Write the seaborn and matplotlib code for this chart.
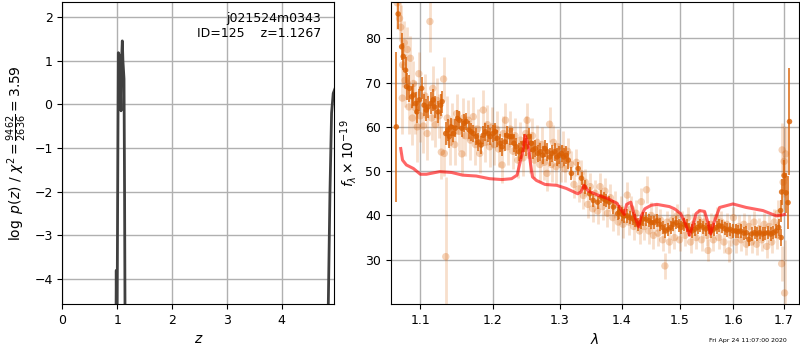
import numpy as np
import pandas as pd
import seaborn as sns
import matplotlib
matplotlib.use('Agg')
import matplotlib.pyplot as plt
from matplotlib.ticker import NullLocator, FixedLocator, FixedFormatter

# redshift probability
z_peak = [0.975, 0.984, 0.990, 1.000, 1.021, 1.045, 1.070, 1.080, 1.094, 1.105, 1.125, 1.135, 1.150]
logp_peak = [-6.0, -3.8, -5.0, -4.6, 1.18, 1.10, -0.15, 1.00, 1.45, 1.00, 0.58, -2.0, -7.0]
z_tail = [4.835, 4.850, 4.880, 4.910, 4.940, 4.970]
logp_tail = [-6.0, -4.6, -2.05, -0.20, 0.25, 0.35]

# binned spectrum (dark points)
lam_bin = [1.0688, 1.0712, 1.0757, 1.0777, 1.0807, 1.0820, 1.0857, 1.0886, 1.0910, 1.0942,
           1.0954, 1.0987, 1.1017, 1.1050, 1.1080, 1.1103, 1.1143, 1.1170, 1.1190, 1.1237,
           1.1270, 1.1290, 1.1340, 1.1368, 1.1390, 1.1410, 1.1445, 1.1470, 1.1500, 1.1526,
           1.1560, 1.1590, 1.1620, 1.1660, 1.1690, 1.1720, 1.1760, 1.1790, 1.1830, 1.1860,
           1.1890, 1.1930, 1.1960, 1.2000, 1.2030, 1.2060, 1.2100, 1.2130, 1.2170, 1.2200,
           1.2240, 1.2270, 1.2305, 1.2340, 1.2375, 1.2410, 1.2450, 1.2490, 1.2525, 1.2560,
           1.2590, 1.2625, 1.2660, 1.2700, 1.2735, 1.2770, 1.2805, 1.2840, 1.2875, 1.2920,
           1.2955, 1.2990, 1.3025, 1.3060, 1.3095, 1.3130, 1.3180, 1.3287, 1.3340, 1.3390,
           1.3470, 1.3527, 1.3600, 1.3660, 1.3700, 1.3740, 1.3790, 1.3860, 1.3930, 1.3960,
           1.4000, 1.4040, 1.4090, 1.4130, 1.4180, 1.4220, 1.4270, 1.4320, 1.4360, 1.4410,
           1.4460, 1.4505, 1.4550, 1.4600, 1.4650, 1.4700, 1.4750, 1.4800, 1.4840, 1.4890,
           1.4940, 1.4990, 1.5030, 1.5080, 1.5130, 1.5180, 1.5230, 1.5280, 1.5330, 1.5380,
           1.5430, 1.5480, 1.5530, 1.5580, 1.5630, 1.5680, 1.5730, 1.5780, 1.5830, 1.5880,
           1.5930, 1.5990, 1.6040, 1.6090, 1.6140, 1.6200, 1.6250, 1.6300, 1.6350, 1.6410,
           1.6460, 1.6510, 1.6570, 1.6620, 1.6680, 1.6730, 1.6780, 1.6840, 1.6890, 1.6940,
           1.6930, 1.6950, 1.7000, 1.7040, 1.7080, 1.7110]
flux_bin = [60.0, 85.5, 78.1, 75.9, 72.8, 69.1, 68.7, 66.8, 67.2, 65.3,
            63.4, 66.1, 68.7, 64.9, 63.8, 64.5, 65.3, 66.1, 64.5, 63.4,
            64.9, 65.7, 58.5, 59.3, 57.8, 60.0, 58.5, 59.7, 61.9, 61.5,
            59.7, 60.8, 61.2, 59.3, 58.9, 58.5, 57.8, 56.6, 55.9, 58.1,
            58.9, 58.5, 57.8, 58.5, 58.9, 57.4, 56.3, 55.5, 56.6, 58.1,
            57.8, 57.8, 56.3, 55.5, 54.4, 54.8, 56.3, 55.5, 57.8, 56.3,
            54.8, 55.1, 54.0, 54.4, 53.6, 55.1, 54.4, 53.2, 54.0, 54.4,
            53.2, 53.6, 54.0, 53.2, 53.6, 52.5, 49.5, 50.6, 48.4, 46.4,
            44.9, 43.4, 43.0, 44.2, 43.7, 43.3, 43.0, 41.9, 40.4, 40.8,
            40.3, 39.9, 39.9, 39.5, 39.3, 38.8, 38.0, 38.4, 39.2, 39.2,
            38.8, 38.4, 38.4, 38.8, 38.0, 37.3, 36.5, 36.9, 37.3, 38.0,
            38.4, 37.7, 37.3, 38.0, 37.7, 36.9, 36.5, 36.9, 37.3, 37.7,
            37.3, 36.9, 37.3, 36.5, 36.9, 37.3, 37.7, 37.5, 37.0, 36.7,
            36.9, 36.5, 36.5, 36.3, 36.5, 36.0, 36.1, 34.6, 35.8, 36.1,
            35.8, 36.1, 35.8, 36.0, 36.1, 35.8, 36.1, 36.5, 37.3, 35.0,
            41.1, 45.3, 49.0, 45.1, 42.9, 61.2]
err_bin = [17, 3.5, 3, 3, 3, 3, 3, 2.5, 2.5, 2.5,
           2.5, 2.5, 2.5, 2.5, 2.5, 2.5, 2.5, 2.5, 2.5, 2.5,
           2.5, 2.5, 2.5, 2.5, 2.5, 2, 2, 2, 2, 2,
           2, 2, 2, 2, 2, 2, 2, 2, 2, 2,
           2, 2, 2, 2, 2, 2, 2, 2, 2, 2,
           2, 2, 2, 2, 2, 2, 2, 2, 2, 2,
           2, 2, 2, 2, 2, 2, 2, 2, 2, 2,
           2, 2, 2, 2, 2, 2, 1.5, 1.5, 1.5, 1.5,
           1.5, 1.5, 1.5, 1.5, 1.5, 1.5, 1.5, 1.5, 1.5, 1.5,
           1.5, 1.5, 1.5, 1.5, 1.5, 1.5, 1.5, 1.5, 1.5, 1.5,
           1.5, 1.5, 1.5, 1.5, 1.5, 1.5, 1.5, 1.5, 1.5, 1.5,
           1.5, 1.5, 1.5, 1.5, 1.5, 1.5, 1.5, 1.5, 1.5, 1.5,
           1.5, 1.5, 1.5, 1.5, 1.5, 1.5, 1.5, 1.5, 1.5, 1.5,
           1.5, 1.5, 1.5, 1.5, 1.5, 1.5, 1.5, 1.5, 1.5, 1.5,
           1.5, 1.5, 1.5, 1.5, 1.5, 1.5, 1.5, 1.5, 2, 2,
           2.5, 3, 3.5, 4.5, 6, 12]

# unbinned spectrum (light points)
lam_raw = [1.0700, 1.0730, 1.0745, 1.0765, 1.0770, 1.0790, 1.0800, 1.0830, 1.0850, 1.0870,
           1.0895, 1.0910, 1.0935, 1.0960, 1.0980, 1.1000, 1.1040, 1.1060, 1.1090, 1.1127,
           1.1150, 1.1165, 1.1200, 1.1220, 1.1250, 1.1280, 1.1310, 1.1320, 1.1340, 1.1360,
           1.1400, 1.1430, 1.1460, 1.1490, 1.1520, 1.1560, 1.1580, 1.1610, 1.1650, 1.1680,
           1.1720, 1.1750, 1.1780, 1.1810, 1.1860, 1.1880, 1.1920, 1.1950, 1.1990, 1.2020,
           1.2050, 1.2080, 1.2130, 1.2150, 1.2180, 1.2210, 1.2250, 1.2290, 1.2320, 1.2360,
           1.2400, 1.2440, 1.2480, 1.2500, 1.2540, 1.2580, 1.2610, 1.2650, 1.2690, 1.2720,
           1.2760, 1.2800, 1.2840, 1.2870, 1.2900, 1.2940, 1.2970, 1.3010, 1.3050, 1.3080,
           1.3120, 1.3170, 1.3220, 1.3260, 1.3300, 1.3330, 1.3370, 1.3400, 1.3440, 1.3480,
           1.3520, 1.3560, 1.3600, 1.3640, 1.3680, 1.3720, 1.3760, 1.3810, 1.3850, 1.3890,
           1.3940, 1.3980, 1.4020, 1.4090, 1.4120, 1.4160, 1.4200, 1.4240, 1.4300, 1.4330,
           1.4380, 1.4420, 1.4460, 1.4500, 1.4540, 1.4580, 1.4620, 1.4660, 1.4700, 1.4740,
           1.4780, 1.4820, 1.4870, 1.4910, 1.4960, 1.5000, 1.5050, 1.5100, 1.5150, 1.5200,
           1.5250, 1.5300, 1.5350, 1.5400, 1.5450, 1.5500, 1.5520, 1.5570, 1.5620, 1.5680,
           1.5720, 1.5770, 1.5820, 1.5870, 1.5910, 1.5950, 1.6000, 1.6050, 1.6100, 1.6150,
           1.6200, 1.6250, 1.6300, 1.6350, 1.6400, 1.6450, 1.6500, 1.6550, 1.6600, 1.6650,
           1.6700, 1.6750, 1.6800, 1.6850, 1.6880, 1.6950, 1.6960, 1.6980, 1.7000, 1.7010,
           1.7030]
flux_raw = [88.0, 84.5, 82.5, 66.5, 74.0, 79.0, 70.5, 77.5, 64.5, 75.5,
            62.0, 69.8, 64.3, 60.0, 72.0, 62.5, 60.2, 67.0, 58.5, 83.8,
            62.0, 68.7, 60.5, 66.0, 62.5, 54.3, 70.8, 54.0, 30.7, 62.0,
            56.5, 61.0, 56.0, 63.0, 59.0, 53.9, 62.0, 58.0, 61.5, 57.0,
            62.3, 56.0, 59.5, 54.0, 63.8, 56.5, 60.5, 55.5, 60.0, 56.0,
            59.5, 55.0, 51.4, 58.5, 61.5, 55.5, 59.5, 54.5, 58.0, 52.5,
            57.0, 53.0, 58.5, 61.5, 53.5, 58.0, 52.5, 56.5, 51.5, 56.0,
            52.0, 49.5, 60.6, 51.5, 56.5, 51.0, 55.5, 51.5, 55.0, 50.5,
            54.5, 51.5, 47.0, 52.0, 46.0, 49.5, 44.5, 47.5, 42.5, 46.5,
            41.5, 45.0, 41.0, 46.5, 42.0, 45.5, 40.5, 44.0, 39.5, 42.5,
            38.5, 41.5, 38.0, 44.6, 38.5, 41.5, 37.5, 40.5, 36.5, 43.1,
            37.5, 45.8, 36.5, 40.0, 35.5, 39.5, 36.0, 39.0, 34.5, 28.6,
            38.5, 34.0, 39.0, 35.0, 40.0, 34.5, 38.5, 35.5, 39.5, 34.0,
            38.0, 35.0, 39.0, 34.5, 38.5, 35.5, 32.1, 38.0, 34.5, 39.5,
            35.0, 38.5, 34.0, 38.0, 32.0, 35.5, 39.5, 34.0, 37.5, 34.5,
            38.0, 33.5, 37.5, 34.0, 38.5, 33.5, 37.0, 34.5, 38.0, 33.0,
            37.5, 34.0, 38.5, 35.5, 40.5, 29.1, 54.8, 47.5, 52.2, 22.5,
            53.9]
err_raw = [6, 5, 5, 8, 5, 5, 6, 5, 6, 5,
           6, 5, 6, 8, 5, 6, 6, 5, 6, 7,
           5, 5, 5, 5, 5, 6, 5, 5, 18, 5,
           5, 4.5, 4.5, 4.5, 4.5, 4.5, 4.5, 4.5, 4.5, 4.5,
           4.5, 4.5, 4.5, 4.5, 4.5, 4.5, 4.5, 4.5, 4.5, 4.5,
           4, 4, 4, 4, 4, 4, 4, 4, 4, 4,
           4, 4, 4, 4, 4, 4, 4, 4, 4, 4,
           4, 4, 4, 4, 4, 4, 4, 4, 4, 3,
           3, 3, 3, 3, 3, 3, 3, 3, 3, 3,
           3, 3, 3, 3, 3, 3, 3, 3, 3, 3,
           3, 3, 3, 3, 3, 3, 3, 3, 3, 3,
           3, 3, 3, 3, 3, 3, 3, 2.5, 2.5, 3,
           2.5, 2.5, 2.5, 2.5, 2.5, 2.5, 2.5, 2.5, 2.5, 2.5,
           2.5, 2.5, 2.5, 2.5, 2.5, 2.5, 2.5, 2.5, 2.5, 2.5,
           2.5, 2.5, 2.5, 2.5, 2.5, 2.5, 2.5, 2.5, 2.5, 2.5,
           2.5, 2.5, 2.5, 2.5, 2.5, 2.5, 2.5, 2.5, 2.5, 2.5,
           2.5, 2.5, 3, 3, 3, 4, 6, 6, 8, 12,
           6]

# best-fit template (red line)
lam_model = [1.0745, 1.0768, 1.0818, 1.0909, 1.1000, 1.1080, 1.1260, 1.1420, 1.1570, 1.1760,
             1.1950, 1.2130, 1.2270, 1.2350, 1.2390, 1.2440, 1.2470, 1.2510, 1.2550, 1.2580,
             1.2640, 1.2770, 1.2950, 1.3100, 1.3280, 1.3330, 1.3380, 1.3450, 1.3620, 1.3770,
             1.3920, 1.4000, 1.4040, 1.4080, 1.4150, 1.4215, 1.4285, 1.4330, 1.4390, 1.4500,
             1.4600, 1.4820, 1.4910, 1.5020, 1.5100, 1.5180, 1.5255, 1.5300, 1.5365, 1.5457,
             1.5519, 1.5568, 1.5631, 1.5737, 1.5990, 1.6247, 1.6575, 1.6841, 1.7009]
flux_model = [55.1, 52.5, 51.4, 50.6, 49.3, 49.3, 49.9, 49.7, 49.1, 48.9,
              48.3, 48.1, 48.3, 49.1, 51.7, 54.8, 58.1, 56.3, 51.7, 48.7,
              47.9, 47.0, 46.8, 46.1, 44.9, 45.3, 46.8, 45.5, 44.5, 43.8,
              42.7, 41.0, 40.2, 42.5, 43.0, 39.9, 37.4, 39.9, 41.5, 42.3,
              42.5, 42.0, 41.5, 40.4, 38.4, 35.5, 38.4, 40.4, 41.1, 40.9,
              38.4, 35.8, 38.4, 41.8, 42.6, 41.8, 41.1, 39.9, 40.2]

lam_ticks = [1.1, 1.2, 1.3, 1.4, 1.5, 1.6, 1.7]

plt.rcParams['font.size'] = 9
plt.rcParams['axes.axisbelow'] = True
orange = '#d95f02'

fig = plt.figure(figsize=(8, 3.5), dpi=100)
ax1 = fig.add_axes([0.0779, 0.1314, 0.340, 0.8629])
ax2 = fig.add_axes([0.4884, 0.1314, 0.5100, 0.8629])

# left: log p(z)
sns.lineplot(x=z_peak, y=logp_peak, ax=ax1, color='0.25', lw=2, estimator=None, sort=False)
sns.lineplot(x=z_tail, y=logp_tail, ax=ax1, color='0.25', lw=2, estimator=None, sort=False)
ax1.set_xlim(0, 4.96)
ax1.set_ylim(-4.57, 2.34)
ax1.set_xticks([0, 1, 2, 3, 4])
ax1.set_yticks([-4, -3, -2, -1, 0, 1, 2])
ax1.grid(True, color='#b0b0b0', lw=1)
ax1.set_xlabel(r'$z$', fontsize=10)
ax1.set_ylabel(r'$\log\ p(z)$ / $\chi^2=\frac{9462}{2636}=3.59$', fontsize=10)
ax1.text(0.952, 0.967, 'j021524m0343\nID=125    z=1.1267', transform=ax1.transAxes,
         ha='right', va='top', fontsize=9)

# right: spectrum
raw = pd.DataFrame({'lam': lam_raw, 'flux': flux_raw})
binned = pd.DataFrame({'lam': lam_bin, 'flux': flux_bin})
ax2.errorbar(lam_raw, flux_raw, yerr=err_raw, fmt='none', ecolor=orange, elinewidth=2, alpha=0.2)
sns.scatterplot(data=raw, x='lam', y='flux', ax=ax2, color=orange, alpha=0.28, s=28,
                edgecolor='none')
ax2.errorbar(lam_bin, flux_bin, yerr=err_bin, fmt='none', ecolor=orange, elinewidth=1.3, alpha=0.8)
sns.scatterplot(data=binned, x='lam', y='flux', ax=ax2, color=orange, alpha=0.8, s=16,
                edgecolor='none')
sns.lineplot(x=lam_model, y=flux_model, ax=ax2, color='red', alpha=0.6, lw=2.2,
             estimator=None, sort=False)

ax2.set_xscale('log')
ax2.set_xlim(1.0617, 1.730)
ax2.set_ylim(20.0, 88.2)
ax2.xaxis.set_major_locator(FixedLocator(lam_ticks))
ax2.xaxis.set_major_formatter(FixedFormatter([f'{t:.1f}' for t in lam_ticks]))
ax2.xaxis.set_minor_locator(NullLocator())
ax2.set_yticks([30, 40, 50, 60, 70, 80])
ax2.grid(True, color='#b0b0b0', lw=1)
ax2.set_xlabel(r'$\lambda$', fontsize=10)
ax2.set_ylabel(r'$f_\lambda \times 10^{-19}$', fontsize=10)

fig.text(0.984, 0.028, 'Fri Apr 24 11:07:00 2020', ha='right', va='center', fontsize=4.5)

fig.savefig('out.png', dpi=100)
